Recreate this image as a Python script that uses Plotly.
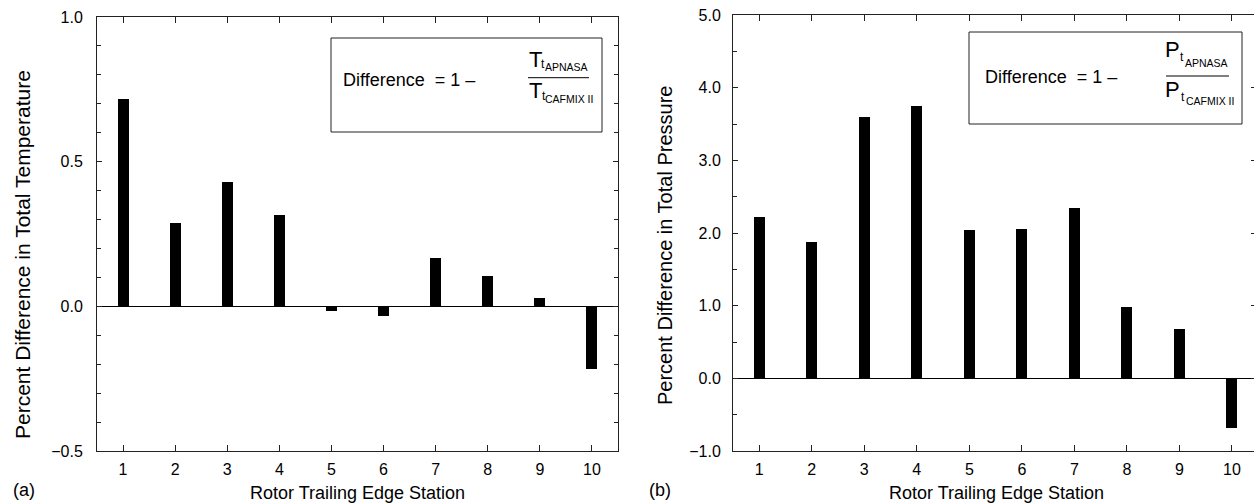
import plotly.graph_objects as go

# ---- data ----
stations = [1, 2, 3, 4, 5, 6, 7, 8, 9, 10]
temp_diff = [0.717, 0.288, 0.429, 0.316, -0.016, -0.035, 0.167, 0.106, 0.030, -0.217]
press_diff = [2.22, 1.88, 3.59, 3.75, 2.04, 2.06, 2.35, 0.98, 0.68, -0.68]
temp_ticks = [-0.5, 0.0, 0.5, 1.0]
press_ticks = [-1.0, 0.0, 1.0, 2.0, 3.0, 4.0, 5.0]

W, H = 1254, 504
FONT = "Liberation Sans, Arial, Helvetica, sans-serif"
AXC = "#222222"


def px(x):
    return x / W


def py(y):
    return 1 - y / H


def fmt(v):
    s = f"{abs(v):.1f}"
    return ("\u2212" + s) if v < 0 else s


fig = go.Figure()
fig.add_trace(go.Bar(x=stations, y=temp_diff, width=0.21, marker=dict(color="black", line=dict(width=0)),
                     xaxis="x", yaxis="y", showlegend=False))
fig.add_trace(go.Bar(x=stations, y=press_diff, width=0.21, marker=dict(color="black", line=dict(width=0)),
                     xaxis="x2", yaxis="y2", showlegend=False))
fig.add_trace(go.Scatter(x=[], y=[], xaxis="x2", yaxis="y3", showlegend=False))

tickfont = dict(family=FONT, size=16, color="black")

xcommon = dict(tickmode="array", tickvals=stations, ticktext=[str(s) for s in stations],
               ticks="inside", ticklen=6, tickcolor=AXC, showline=True, linecolor=AXC, linewidth=1,
               mirror="ticks", showgrid=False, zeroline=False, tickfont=tickfont, ticklabelstandoff=4,
               automargin=False)

fig.update_layout(
    template="none",
    width=W, height=H,
    margin=dict(l=0, r=0, t=0, b=0, pad=0, autoexpand=False),
    paper_bgcolor="white", plot_bgcolor="white",
    font=dict(family=FONT, color="black"),
    bargap=0,
    showlegend=False,
    xaxis=dict(domain=[px(97), px(618)], range=[0.5, 10.5], anchor="y", **xcommon),
    yaxis=dict(domain=[py(451), py(17)], range=[-0.5, 1.0], anchor="x",
               tickmode="array", tickvals=temp_ticks, ticktext=[fmt(v) for v in temp_ticks],
               ticks="inside", ticklen=5, tickcolor=AXC,
               minor=dict(dtick=0.1, ticks="inside", ticklen=4, tickcolor=AXC, showgrid=False),
               showline=True, linecolor=AXC, linewidth=1, mirror="ticks", showgrid=False,
               zeroline=True, zerolinecolor="black", zerolinewidth=1,
               tickfont=tickfont, ticklabelstandoff=10, automargin=False),
    xaxis2=dict(domain=[px(733), 1.0], range=[0.5, 10.42], anchor="y2", **xcommon),
    yaxis2=dict(domain=[py(451), py(15)], range=[-1.0, 5.0], anchor="x2",
                tickmode="array", tickvals=press_ticks, ticktext=[fmt(v) for v in press_ticks],
                ticks="inside", ticklen=5, tickcolor=AXC,
                minor=dict(dtick=0.5, ticks="inside", ticklen=4, tickcolor=AXC, showgrid=False),
                showline=True, linecolor=AXC, linewidth=1, mirror=False, showgrid=False,
                zeroline=True, zerolinecolor="black", zerolinewidth=1,
                tickfont=tickfont, ticklabelstandoff=8, automargin=False),
    yaxis3=dict(overlaying="y2", side="right", anchor="free", position=1.0, range=[-1.0, 5.0],
                tickmode="array", tickvals=press_ticks, showticklabels=False,
                ticks="inside", ticklen=3, tickcolor=AXC, showline=False, showgrid=False, zeroline=False,
                automargin=False),
)

ann = []
shapes = []


def text(x, y, s, size, xanchor="center", textangle=0):
    ann.append(dict(x=px(x), y=py(y), xref="paper", yref="paper", text=s, showarrow=False,
                    xanchor=xanchor, yanchor="middle", textangle=textangle,
                    font=dict(family=FONT, size=size, color="black")))


# axis titles
text(357, 493, "Rotor Trailing Edge Station", 18)
text(996, 493, "Rotor Trailing Edge Station", 18)
text(22, 255, "Percent Difference in Total Temperature", 21, textangle=-90)
text(665, 246, "Percent Difference in Total Pressure", 20, textangle=-90)
text(24, 490, "(a)", 18)
text(660, 490, "(b)", 18)

# formula box (a)
shapes.append(dict(type="rect", xref="paper", yref="paper", x0=px(331), x1=px(602), y0=py(132), y1=py(38),
                   line=dict(color=AXC, width=1), fillcolor="white", layer="above"))
text(341, 80, "Difference\u00a0\u00a0= 1 \u2013", 18, xanchor="left")
text(535, 59, "T", 22)
text(539, 64, "t", 12, xanchor="left")
text(543, 67, "APNASA", 10.5, xanchor="left")
shapes.append(dict(type="line", xref="paper", yref="paper", x0=px(528), x1=px(589), y0=py(77.7), y1=py(77.7),
                   line=dict(color="black", width=1)))
text(535, 90, "T", 22)
text(540, 96, "t", 12, xanchor="left")
text(543, 99, "CAFMIX II", 10.5, xanchor="left")

# formula box (b)
shapes.append(dict(type="rect", xref="paper", yref="paper", x0=px(969), x1=px(1242), y0=py(124), y1=py(32),
                   line=dict(color=AXC, width=1), fillcolor="white", layer="above"))
text(983, 77, "Difference\u00a0\u00a0= 1 \u2013", 18, xanchor="left")
text(1172, 50, "P", 22)
text(1178, 57, "t", 12, xanchor="left")
text(1183, 63, "APNASA", 10.5, xanchor="left")
shapes.append(dict(type="line", xref="paper", yref="paper", x0=px(1166), x1=px(1229), y0=py(76), y1=py(76),
                   line=dict(color="black", width=1)))
text(1172, 89, "P", 22)
text(1179, 97, "t", 12, xanchor="left")
text(1184, 101, "CAFMIX II", 10.5, xanchor="left")

fig.update_layout(annotations=ann, shapes=shapes)
fig.write_html("out.html")
